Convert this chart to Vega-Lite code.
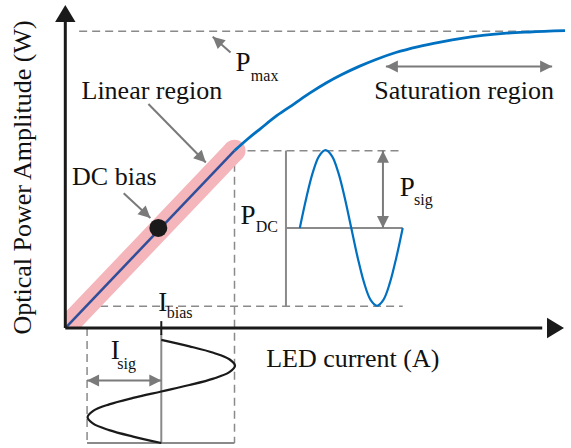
{
  "$schema": "https://vega.github.io/schema/vega-lite/v6.json",
  "width": 571,
  "height": 448,
  "autosize": {"type": "fit", "contains": "padding"},
  "padding": 0,
  "background": "white",
  "config": {"view": {"stroke": null}, "font": "Liberation Serif"},
  "datasets": {
    "axes": [
      {"x": 0, "y": 0, "x2": 0, "y2": 31.2},
      {"x": 0, "y": 0, "x2": 48.2, "y2": 0}
    ],
    "axisHeads": [
      {"x": 0, "y": 32.6, "dir": "up"},
      {"x": 50.4, "y": 0, "dir": "right"}
    ],
    "dashed": [
      {"x": 1.4, "y": 29.95, "x2": 50.5, "y2": 29.95},
      {"x": 17.1, "y": 17.9, "x2": 34.1, "y2": 17.9},
      {"x": 17.1, "y": 17.9, "x2": 17.1, "y2": -11.6},
      {"x": 2.2, "y": 2.2, "x2": 34.1, "y2": 2.2},
      {"x": 2.2, "y": 0, "x2": 2.2, "y2": -11.6}
    ],
    "guides": [
      {"x": 22.3, "y": 17.9, "x2": 22.3, "y2": 2.2},
      {"x": 22.3, "y": 10.1, "x2": 34.1, "y2": 10.1},
      {"x": 9.7, "y": -0.6, "x2": 9.7, "y2": -11.6},
      {"x": 2.2, "y": -11.6, "x2": 17.1, "y2": -11.6}
    ],
    "biasTick": [
      {"x": 9.7, "y": 0.7, "x2": 9.7, "y2": -0.7}
    ],
    "shafts": [
      {"x": 32.1, "y": 17.9, "x2": 32.1, "y2": 10.1},
      {"x": 2.2, "y": -5.3, "x2": 9.7, "y2": -5.3},
      {"x": 32.4, "y": 26.4, "x2": 49.2, "y2": 26.4},
      {"x": 16.7, "y": 27.8, "x2": 14.9, "y2": 29.4},
      {"x": 8.4, "y": 22.6, "x2": 14.2, "y2": 16.7},
      {"x": 5.9, "y": 13.6, "x2": 8.6, "y2": 11.1}
    ],
    "heads": [
      {"x": 32.1, "y": 17.9, "dir": "up"},
      {"x": 32.1, "y": 10.1, "dir": "down"},
      {"x": 2.2, "y": -5.3, "dir": "left"},
      {"x": 32.4, "y": 26.4, "dir": "left"},
      {"x": 9.7, "y": -5.3, "dir": "right"},
      {"x": 49.2, "y": 26.4, "dir": "right"},
      {"x": 14.9, "y": 29.4, "dir": "pmax"},
      {"x": 14.2, "y": 16.7, "dir": "linear"},
      {"x": 8.6, "y": 11.1, "dir": "bias"}
    ],
    "band": [
      {"x": 0, "lo": 0, "hi": 1.59},
      {"x": 1.52, "lo": 0, "hi": 3.18},
      {"x": 16.3, "lo": 15.47, "hi": 18.66},
      {"x": 17.9, "lo": 17.15, "hi": 17.15}
    ],
    "bandEnd": [
      {"x": 17.1, "y": 17.9}
    ],
    "linear": [
      {"x": 0, "y": 0},
      {"x": 17.1, "y": 17.9}
    ],
    "saturation": [
      {"x": 17.1, "y": 17.9},
      {"x": 18.4, "y": 19.05},
      {"x": 19.7, "y": 20.1},
      {"x": 21.4, "y": 21.45},
      {"x": 23.1, "y": 22.6},
      {"x": 24.7, "y": 23.7},
      {"x": 26.4, "y": 24.75},
      {"x": 28.0, "y": 25.6},
      {"x": 29.7, "y": 26.4},
      {"x": 31.4, "y": 27.1},
      {"x": 33.4, "y": 27.8},
      {"x": 35.7, "y": 28.4},
      {"x": 37.9, "y": 28.85},
      {"x": 40.2, "y": 29.25},
      {"x": 42.4, "y": 29.55},
      {"x": 44.6, "y": 29.75},
      {"x": 46.9, "y": 29.87},
      {"x": 50.5, "y": 30.0}
    ],
    "powerSignal": [
      {"x": 23.7, "y": 10.1},
      {"x": 24.35, "y": 13.1},
      {"x": 25.0, "y": 15.65},
      {"x": 25.65, "y": 17.35},
      {"x": 26.3, "y": 17.95},
      {"x": 26.95, "y": 17.35},
      {"x": 27.6, "y": 15.65},
      {"x": 28.25, "y": 13.1},
      {"x": 28.9, "y": 10.1},
      {"x": 29.55, "y": 7.1},
      {"x": 30.2, "y": 4.55},
      {"x": 30.85, "y": 2.85},
      {"x": 31.5, "y": 2.25},
      {"x": 32.15, "y": 2.85},
      {"x": 32.8, "y": 4.55},
      {"x": 33.45, "y": 7.1},
      {"x": 34.1, "y": 10.1}
    ],
    "currentSignal": [
      {"x": 9.7, "y": -1.2},
      {"x": 12.55, "y": -1.85},
      {"x": 14.97, "y": -2.5},
      {"x": 16.58, "y": -3.15},
      {"x": 17.15, "y": -3.8},
      {"x": 16.58, "y": -4.45},
      {"x": 14.97, "y": -5.1},
      {"x": 12.55, "y": -5.75},
      {"x": 9.7, "y": -6.4},
      {"x": 6.85, "y": -7.05},
      {"x": 4.43, "y": -7.7},
      {"x": 2.82, "y": -8.35},
      {"x": 2.25, "y": -9.0},
      {"x": 2.82, "y": -9.65},
      {"x": 4.43, "y": -10.3},
      {"x": 6.85, "y": -10.95},
      {"x": 9.7, "y": -11.6}
    ],
    "biasPoint": [
      {"x": 9.4, "y": 10.1}
    ],
    "labels": [
      {"x": 8.75, "y": 23.1, "t": "Linear region"},
      {"x": 40.3, "y": 23.1, "t": "Saturation region"},
      {"x": 4.95, "y": 14.4, "t": "DC bias"},
      {"x": 29.05, "y": -3.9, "t": "LED current (A)"}
    ],
    "symbols": [
      {"x": 17.2, "y": 25.9, "t": "P"},
      {"x": 17.7, "y": 10.5, "t": "P"},
      {"x": 33.8, "y": 13.3, "t": "P"},
      {"x": 9.4, "y": 1.7, "t": "I"},
      {"x": 4.6, "y": -3.1, "t": "I"}
    ],
    "subscripts": [
      {"x": 18.75, "y": 24.95, "t": "max"},
      {"x": 19.25, "y": 9.7, "t": "DC"},
      {"x": 35.25, "y": 12.4, "t": "sig"},
      {"x": 10.25, "y": 1.0, "t": "bias"},
      {"x": 5.25, "y": -4.1, "t": "sig"}
    ],
    "yTitle": [
      {"x": -3.5, "y": 15.2, "t": "Optical Power Amplitude (W)"}
    ]
  },
  "encoding": {
    "x": {"field": "x", "type": "quantitative", "scale": {"domain": [-6.6, 50.5], "nice": false, "zero": false}, "axis": null},
    "y": {"field": "y", "type": "quantitative", "scale": {"domain": [-11.7, 33.1], "nice": false, "zero": false}, "axis": null}
  },
  "layer": [
    {
      "data": {"name": "dashed"},
      "mark": {"type": "rule", "color": "#8a8a8a", "strokeWidth": 1.5, "strokeDash": [8, 5]},
      "encoding": {"x2": {"field": "x2"}, "y2": {"field": "y2"}}
    },
    {
      "data": {"name": "guides"},
      "mark": {"type": "rule", "color": "#8a8a8a", "strokeWidth": 2},
      "encoding": {"x2": {"field": "x2"}, "y2": {"field": "y2"}}
    },
    {
      "data": {"name": "band"},
      "mark": {"type": "area", "color": "#f4b5bb", "opacity": 1},
      "encoding": {"y": {"field": "hi", "type": "quantitative"}, "y2": {"field": "lo"}}
    },
    {
      "data": {"name": "bandEnd"},
      "mark": {"type": "point", "shape": "circle", "filled": true, "color": "#f4b5bb", "opacity": 1, "size": 484, "strokeWidth": 0}
    },
    {
      "data": {"name": "linear"},
      "mark": {"type": "line", "color": "#2f4f9a", "strokeWidth": 2.5}
    },
    {
      "data": {"name": "saturation"},
      "mark": {"type": "line", "color": "#0070c0", "strokeWidth": 2.8, "interpolate": "monotone"}
    },
    {
      "data": {"name": "powerSignal"},
      "mark": {"type": "line", "color": "#0070c0", "strokeWidth": 2.2, "interpolate": "catmull-rom"}
    },
    {
      "data": {"name": "currentSignal"},
      "mark": {"type": "line", "color": "#1a1a1a", "strokeWidth": 2.2, "interpolate": "catmull-rom"},
      "encoding": {"order": {"field": "y", "sort": "descending"}}
    },
    {
      "data": {"name": "axes"},
      "mark": {"type": "rule", "color": "#1a1a1a", "strokeWidth": 3},
      "encoding": {"x2": {"field": "x2"}, "y2": {"field": "y2"}}
    },
    {
      "data": {"name": "biasTick"},
      "mark": {"type": "rule", "color": "#1a1a1a", "strokeWidth": 2},
      "encoding": {"x2": {"field": "x2"}, "y2": {"field": "y2"}}
    },
    {
      "data": {"name": "axisHeads"},
      "transform": [{"filter": "datum.dir === 'up'"}],
      "mark": {"type": "point", "shape": "M0,0L-0.6,1L0.6,1Z", "filled": true, "color": "#1a1a1a", "opacity": 1, "size": 1156, "angle": 0, "strokeWidth": 0}
    },
    {
      "data": {"name": "axisHeads"},
      "transform": [{"filter": "datum.dir === 'right'"}],
      "mark": {"type": "point", "shape": "M0,0L-0.6,1L0.6,1Z", "filled": true, "color": "#1a1a1a", "opacity": 1, "size": 1156, "angle": 90, "strokeWidth": 0}
    },
    {
      "data": {"name": "shafts"},
      "mark": {"type": "rule", "color": "#7a7a7a", "strokeWidth": 2},
      "encoding": {"x2": {"field": "x2"}, "y2": {"field": "y2"}}
    },
    {
      "data": {"name": "heads"},
      "transform": [{"filter": "datum.dir === 'up'"}],
      "mark": {"type": "point", "shape": "M0,0L-0.5,1L0.5,1Z", "filled": true, "color": "#7a7a7a", "opacity": 1, "size": 576, "angle": 0, "strokeWidth": 0}
    },
    {
      "data": {"name": "heads"},
      "transform": [{"filter": "datum.dir === 'down'"}],
      "mark": {"type": "point", "shape": "M0,0L-0.5,1L0.5,1Z", "filled": true, "color": "#7a7a7a", "opacity": 1, "size": 576, "angle": 180, "strokeWidth": 0}
    },
    {
      "data": {"name": "heads"},
      "transform": [{"filter": "datum.dir === 'left'"}],
      "mark": {"type": "point", "shape": "M0,0L-0.5,1L0.5,1Z", "filled": true, "color": "#7a7a7a", "opacity": 1, "size": 576, "angle": 270, "strokeWidth": 0}
    },
    {
      "data": {"name": "heads"},
      "transform": [{"filter": "datum.dir === 'right'"}],
      "mark": {"type": "point", "shape": "M0,0L-0.5,1L0.5,1Z", "filled": true, "color": "#7a7a7a", "opacity": 1, "size": 576, "angle": 90, "strokeWidth": 0}
    },
    {
      "data": {"name": "heads"},
      "transform": [{"filter": "datum.dir === 'pmax'"}],
      "mark": {"type": "point", "shape": "M0,0L-0.5,1L0.5,1Z", "filled": true, "color": "#7a7a7a", "opacity": 1, "size": 576, "angle": 311.6, "strokeWidth": 0}
    },
    {
      "data": {"name": "heads"},
      "transform": [{"filter": "datum.dir === 'linear'"}],
      "mark": {"type": "point", "shape": "M0,0L-0.5,1L0.5,1Z", "filled": true, "color": "#7a7a7a", "opacity": 1, "size": 576, "angle": 135.5, "strokeWidth": 0}
    },
    {
      "data": {"name": "heads"},
      "transform": [{"filter": "datum.dir === 'bias'"}],
      "mark": {"type": "point", "shape": "M0,0L-0.5,1L0.5,1Z", "filled": true, "color": "#7a7a7a", "opacity": 1, "size": 576, "angle": 132.8, "strokeWidth": 0}
    },
    {
      "data": {"name": "biasPoint"},
      "mark": {"type": "point", "shape": "circle", "filled": true, "color": "#1a1a1a", "opacity": 1, "size": 324, "strokeWidth": 0}
    },
    {
      "data": {"name": "labels"},
      "mark": {"type": "text", "font": "Liberation Serif", "fontSize": 26, "color": "#111111", "align": "center", "baseline": "alphabetic"},
      "encoding": {"text": {"field": "t"}}
    },
    {
      "data": {"name": "symbols"},
      "mark": {"type": "text", "font": "Liberation Serif", "fontSize": 27, "color": "#111111", "align": "left", "baseline": "alphabetic"},
      "encoding": {"text": {"field": "t"}}
    },
    {
      "data": {"name": "subscripts"},
      "mark": {"type": "text", "font": "Liberation Serif", "fontSize": 16, "color": "#111111", "align": "left", "baseline": "alphabetic"},
      "encoding": {"text": {"field": "t"}}
    },
    {
      "data": {"name": "yTitle"},
      "mark": {"type": "text", "font": "Liberation Serif", "fontSize": 26, "color": "#111111", "align": "center", "baseline": "alphabetic", "angle": 270},
      "encoding": {"text": {"field": "t"}}
    }
  ]
}
